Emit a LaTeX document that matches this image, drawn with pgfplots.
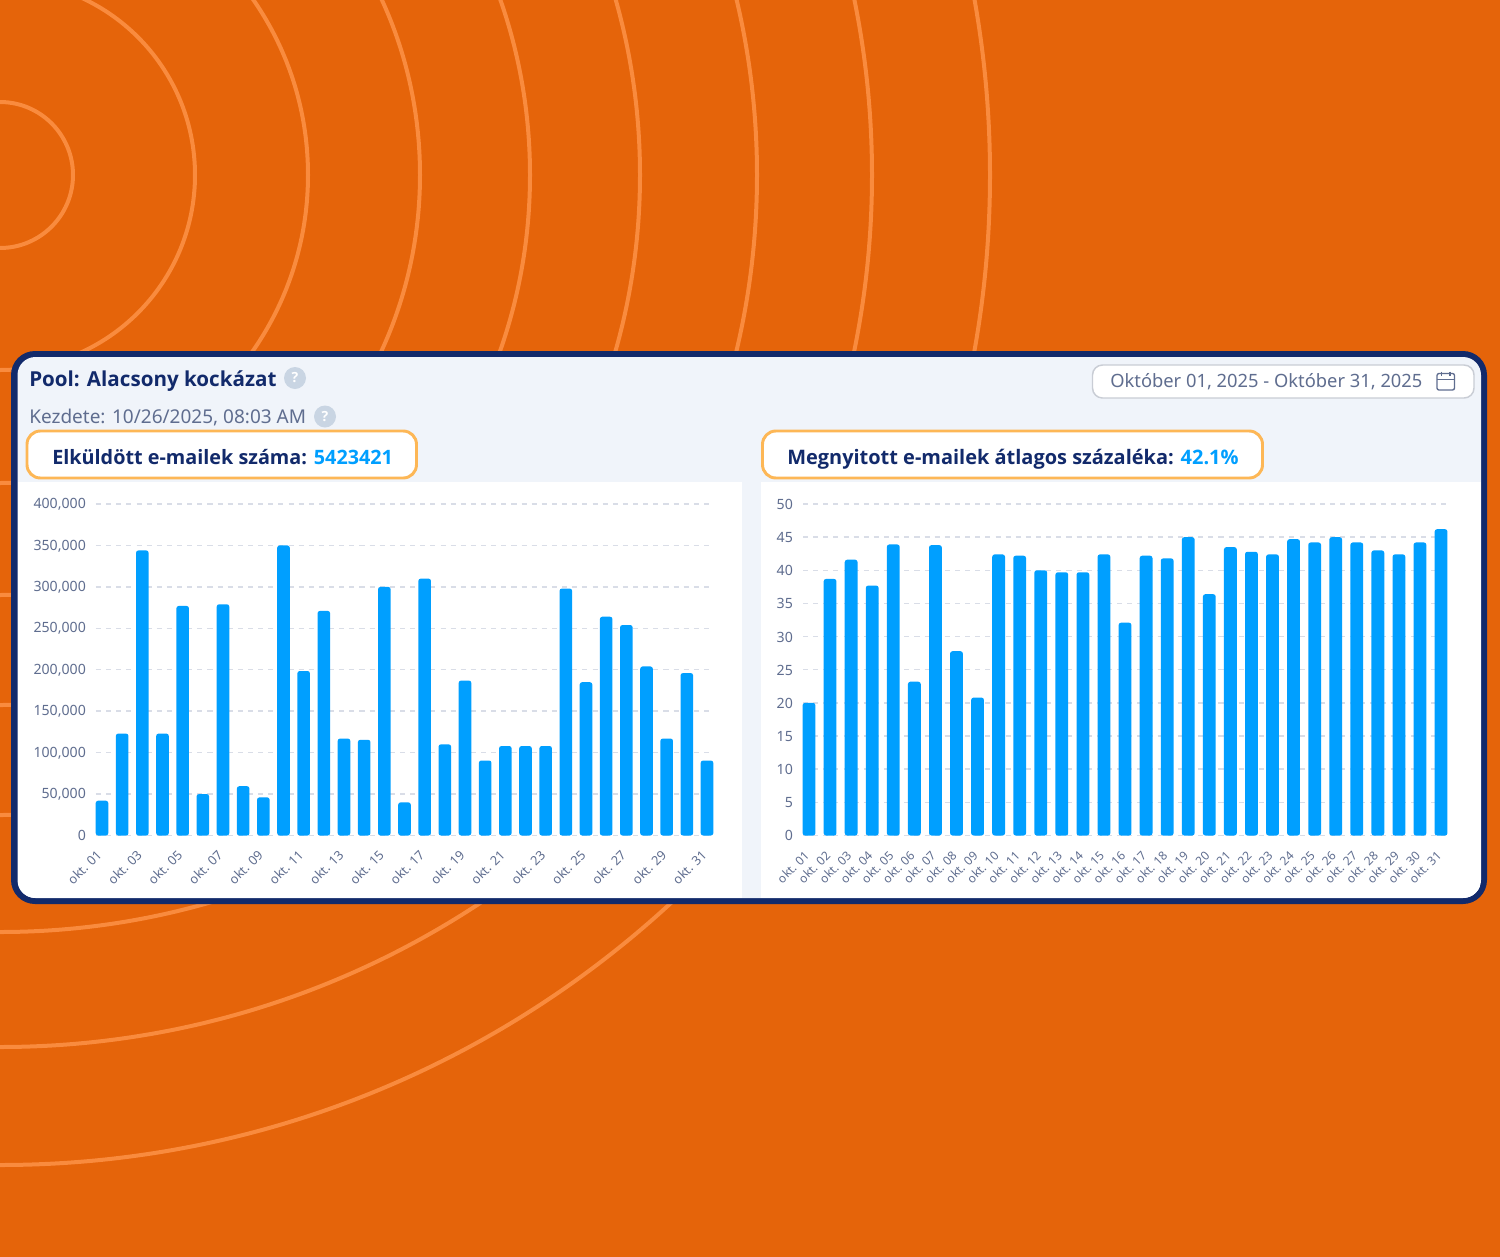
\documentclass[border=0pt]{standalone}
\usepackage{fontspec}
\setmainfont{Noto Sans}
\newfontfamily\bfn{Open Sans}
\usepackage{pgfplots}
\pgfplotsset{compat=1.18}
\definecolor{bgor}{HTML}{E5640A}
\definecolor{arcor}{HTML}{F98B3E}
\definecolor{navy}{HTML}{122A6B}
\definecolor{panel}{HTML}{F0F4FA}
\definecolor{barb}{HTML}{009FFF}
\definecolor{gridc}{HTML}{D9DDE7}
\definecolor{txt}{HTML}{5F6D8F}
\definecolor{qm}{HTML}{C9D5E3}
\definecolor{hl}{HTML}{FDB756}
\newcommand{\fs}[2]{\fontsize{#1pt}{#2pt}\selectfont}
\pgfplotsset{
  chart/.style={
    scale only axis, anchor=south west,
    ybar, ymin=0,
    axis line style={draw=none}, tick style={draw=none},
    ymajorgrids, xmajorgrids=false,
    major grid style={draw=gridc, line width=1.1pt, dash pattern=on 3.8pt off 3.8pt},
    /pgf/number format/fixed,
    /pgf/number format/assume math mode=true,
    /pgf/number format/1000 sep={,},
    scaled y ticks=false,
    tick label style={text=txt},
    y tick label style={font=\fs{10.6}{12}, inner sep=0pt, xshift=-7.4pt, yshift=-0.3pt},
    clip=false,
  },
  bars/.style={fill=barb, draw=none, rounded corners=1.8pt},
}
\begin{document}
\begin{tikzpicture}
\begin{scope}[x=0.75pt,y=-0.75pt]
\path[use as bounding box] (0,0) rectangle (1500,1257);
\fill[bgor] (0,0) rectangle (1500,1257);
\clip (0,0) rectangle (1500,1257);
\foreach \r in {73,195,308,420,530,640,757,872,990}
  \draw[arcor, line width=3pt] (0,175) circle[radius=\r];
\fill[navy, rounded corners=24pt*0.75] (11,351) rectangle (1487,904);
\fill[panel, rounded corners=18pt*0.75] (17.5,357) rectangle (1481,898);
\begin{scope}
  \clip[rounded corners=18pt*0.75] (17.5,357) rectangle (1481,898);
  \fill[white] (17.5,482) rectangle (742,898);
  \fill[white] (761,482) rectangle (1481,898);
\end{scope}
% header
\node[anchor=base west, inner sep=0pt, text=navy, font=\bfn\fs{15.45}{18}\bfseries] at (29,386.2) {Pool: Alacsony kockázat};
\fill[qm] (295,378) circle[radius=11];
\node[text=white, font=\bfn\fs{10.5}{12}\bfseries] at (295,378) {?};
\node[anchor=base west, inner sep=0pt, text=txt, font=\fs{14.25}{17}] at (29,423.2) {Kezdete: 10/26/2025, 08:03 AM};
\fill[qm] (325,416.5) circle[radius=11];
\node[text=white, font=\bfn\fs{10.5}{12}\bfseries] at (325,416.5) {?};
% date box
\draw[fill=white, draw=gridc!90!black!90, line width=1.1pt, rounded corners=7.5pt] (1092.5,365) rectangle (1474,398);
\node[anchor=base west, inner sep=0pt, text=txt, font=\fs{13.75}{17}] at (1110,387.5) {Október 01, 2025 - Október 31, 2025};
\draw[txt, line width=1pt, rounded corners=1.5pt] (1437,373.5) rectangle (1454.5,390);
\draw[txt, line width=1pt] (1437,379.5) -- (1454.5,379.5);
\draw[txt, line width=1pt] (1441.5,371.5) -- (1441.5,375.5) (1450,371.5) -- (1450,375.5);
% highlight boxes
\draw[fill=white, draw=hl, line width=2.2pt, rounded corners=10pt] (27,431) rectangle (416.5,478);
\node[anchor=base west, inner sep=0pt, font=\bfn\fs{14.85}{18}\bfseries] at (52,464) {\textcolor{navy}{Elküldött e-mailek száma:} \textcolor{barb}{5423421}};
\draw[fill=white, draw=hl, line width=2.2pt, rounded corners=10pt] (762.5,431) rectangle (1262.5,478);
\node[anchor=base west, inner sep=0pt, font=\bfn\fs{14.97}{18}\bfseries] at (787,464) {\textcolor{navy}{Megnyitott e-mailek átlagos százaléka:} \textcolor{barb}{42.1\%}};
\end{scope}
% left chart
\begin{axis}[chart,
  at={(96*0.75pt,-835.5*0.75pt)},
  width=618*0.75pt, height=331.5*0.75pt,
  xmin=-0.2975, xmax=30.347, ymax=400000,
  bar width=12.6*0.75pt,
  x tick label style={font=\fs{9.6}{11}, rotate=45, anchor=north east, inner sep=0pt, xshift=-7.3pt, yshift=-0.6pt},
  ytick={0,50000,100000,150000,200000,250000,300000,350000,400000},
  xtick={0,2,4,6,8,10,12,14,16,18,20,22,24,26,28,30},
  xticklabels={okt. 01,okt. 03,okt. 05,okt. 07,okt. 09,okt. 11,okt. 13,okt. 15,okt. 17,okt. 19,okt. 21,okt. 23,okt. 25,okt. 27,okt. 29,okt. 31},
]
\addplot[bars] coordinates {
(0,42000)(1,123000)(2,344000)(3,123000)(4,277000)(5,50000)(6,279000)(7,59500)(8,46000)(9,350000)
(10,198500)(11,271000)(12,117000)(13,115500)(14,300000)(15,40000)(16,310000)(17,110000)(18,187000)(19,90500)
(20,108000)(21,108000)(22,108000)(23,298000)(24,185000)(25,264000)(26,254000)(27,204000)(28,117000)(29,196000)(30,90500)};
\end{axis}
% right chart
\begin{axis}[chart,
  at={(803*0.75pt,-835.5*0.75pt)},
  width=645*0.75pt, height=331.5*0.75pt,
  xmin=-0.285, xmax=30.33, ymax=50,
  bar width=12.8*0.75pt,
  x tick label style={font=\fs{9}{11}, rotate=45, anchor=north east, inner sep=0pt, xshift=-7.3pt, yshift=-1.6pt},
  ytick={0,5,10,15,20,25,30,35,40,45,50},
  xtick={0,1,...,30},
  xticklabels={okt. 01,okt. 02,okt. 03,okt. 04,okt. 05,okt. 06,okt. 07,okt. 08,okt. 09,okt. 10,okt. 11,okt. 12,okt. 13,okt. 14,okt. 15,okt. 16,okt. 17,okt. 18,okt. 19,okt. 20,okt. 21,okt. 22,okt. 23,okt. 24,okt. 25,okt. 26,okt. 27,okt. 28,okt. 29,okt. 30,okt. 31},
]
\addplot[bars] coordinates {
(0,20)(1,38.7)(2,41.6)(3,37.7)(4,43.9)(5,23.2)(6,43.8)(7,27.8)(8,20.8)(9,42.4)
(10,42.2)(11,40)(12,39.7)(13,39.7)(14,42.4)(15,32.1)(16,42.2)(17,41.8)(18,45)(19,36.4)
(20,43.5)(21,42.8)(22,42.4)(23,44.7)(24,44.2)(25,45)(26,44.2)(27,43)(28,42.4)(29,44.2)(30,46.2)};
\end{axis}
\end{tikzpicture}
\end{document}
